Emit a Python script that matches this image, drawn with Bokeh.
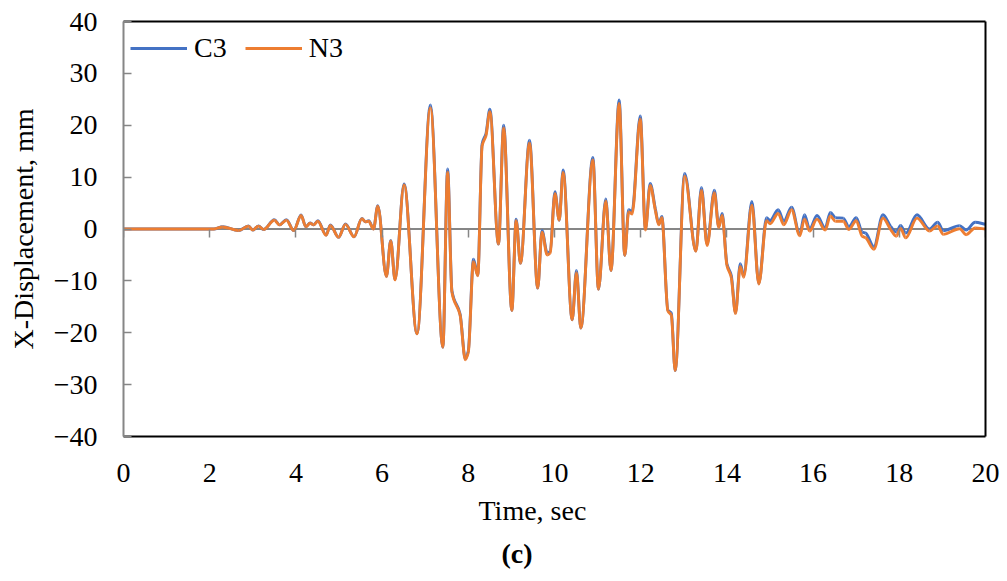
import numpy as np
from bokeh.plotting import figure
from bokeh.models import (Range1d, LinearAxis, FixedTicker, Span, Title,
                          CustomJSTickFormatter, ColumnDataSource)
from bokeh.embed import file_html
from bokeh.resources import INLINE

# ---------------- data ----------------
t = [0.00, 2.10, 2.30, 2.67, 2.90, 3.00, 3.13, 3.25, 3.50, 3.62, 3.78, 3.95,
     4.12, 4.23, 4.33, 4.41, 4.51, 4.70, 4.80, 4.99, 5.15, 5.35, 5.53, 5.61,
     5.69, 5.80, 5.90, 6.10, 6.20, 6.30, 6.51, 6.81, 7.12, 7.41, 7.52, 7.62,
     7.81, 7.93, 8.00, 8.12, 8.22, 8.32, 8.41, 8.50, 8.70, 8.82, 9.01, 9.11,
     9.21, 9.42, 9.61, 9.71, 9.83, 9.90, 10.01, 10.11, 10.20, 10.41, 10.51,
     10.61, 10.89, 11.02, 11.19, 11.31, 11.50, 11.63, 11.72, 11.80, 11.99,
     12.11, 12.22, 12.34, 12.42, 12.49, 12.63, 12.71, 12.80, 13.02, 13.28,
     13.41, 13.54, 13.71, 13.81, 13.89, 14.00, 14.10, 14.20, 14.31, 14.39,
     14.58, 14.74, 14.92, 15.00, 15.19, 15.32, 15.50, 15.69, 15.80, 15.92,
     16.09, 16.28, 16.40, 16.52, 16.70, 16.83, 17.00, 17.14, 17.22, 17.41,
     17.62, 17.80, 17.93, 18.03, 18.15, 18.41, 18.70, 18.89, 19.02, 19.40,
     19.55, 19.76, 20.00]

c3 = [0.0, 0.0, 0.45, -0.3, 0.6, -0.2, 0.6, -0.1, 1.8, 0.8, 1.8, -0.3,
      2.7, 0.45, 1.15, 0.8, 1.6, -1.15, 0.77, -1.6, 0.96, -1.5, 2.05, 1.4,
      1.6, 0.0, 4.5, -9.1, -2.2, -9.7, 8.7, -20.2, 23.9, -22.8, 11.6, -11.9,
      -16.4, -25.0, -23.5, -5.8, -8.9, 16.4, 18.4, 23.1, -2.9, 20.0, -15.7, 1.9,
      -6.6, 17.1, -11.4, -0.3, -4.6, -4.3, 7.2, 1.7, 11.4, -17.5, -8.0,
      -19.1, 13.8, -11.6, 5.8, -8.0, 24.9, -5.1, 3.7, 3.4, 21.8,
      0.0, 8.8, 3.9, 1.0, 2.4, -15.6, -16.2, -27.3, 10.7, -4.2,
      8.0, -2.9, 7.5, 0.45, 3.0, -6.7, -8.9, -16.1, -6.7, -8.9,
      5.3, -10.5, 2.2, 1.6, 3.7, 1.5, 4.2, -1.0, 2.75, 0.0,
      2.6, 0.2, 3.2, 2.2, 2.1, 0.45, 2.2, -0.6, -0.8, -3.4,
      2.75, 0.5, -0.6, 0.7, -0.8, 2.75, 0.0, 1.3, -0.3, 0.65,
      -0.2, 1.3, 0.9]

n3 = [0.0, 0.0, 0.4, -0.3, 0.55, -0.2, 0.55, -0.1, 1.7, 0.8, 1.7, -0.3,
      2.6, 0.45, 1.1, 0.8, 1.5, -1.2, 0.7, -1.6, 0.9, -1.5, 2.0, 1.4,
      1.5, 0.0, 4.4, -9.2, -2.3, -9.8, 8.5, -20.2, 23.4, -22.8, 11.0, -12.2,
      -16.6, -25.2, -23.8, -6.3, -9.0, 16.0, 18.0, 22.6, -2.9, 19.5, -15.7, 1.6,
      -6.6, 16.6, -11.4, -0.6, -5.0, -4.6, 6.8, 1.7, 10.9, -17.5, -8.4,
      -19.1, 13.3, -11.6, 5.4, -8.0, 24.2, -5.1, 3.3, 2.9, 21.2,
      -0.2, 8.4, 3.6, 0.8, 2.2, -15.8, -16.6, -27.3, 10.2, -4.3,
      7.5, -3.2, 7.0, 0.3, 2.6, -7.0, -9.3, -16.3, -7.2, -9.3,
      4.6, -10.6, 1.6, 1.0, 3.0, 0.8, 3.7, -1.3, 1.9, -0.4,
      1.9, -0.2, 2.5, 1.5, 1.5, -0.1, 1.6, -1.4, -1.7, -3.9,
      2.1, -0.1, -1.4, 0.1, -1.7, 2.1, -0.4, 0.6, -1.0, 0.05,
      -1.1, 0.2, 0.0]

x_ticks = [0, 2, 4, 6, 8, 10, 12, 14, 16, 18, 20]
y_ticks = [-40, -30, -20, -10, 0, 10, 20, 30, 40]
series_names = ["C3", "N3"]
series_colors = ["#4472C4", "#ED7D31"]

FONT = "Liberation Serif"
FS = "28px"
GRAY = "#868686"


def smooth_segments(x, y):
    """Cubic Bezier pieces (monotone Hermite tangents) joining the read points."""
    x = np.asarray(x, float)
    y = np.asarray(y, float)
    h = np.diff(x)
    d = np.diff(y) / h
    m = np.zeros(len(x))
    m[-1] = d[-1]
    for i in range(1, len(x) - 1):
        if d[i - 1] * d[i] > 0:
            w1 = 2 * h[i] + h[i - 1]
            w2 = h[i] + 2 * h[i - 1]
            m[i] = (w1 + w2) / (w1 / d[i - 1] + w2 / d[i])
    return dict(x0=x[:-1], y0=y[:-1], x1=x[1:], y1=y[1:],
                cx0=x[:-1] + h / 3, cy0=y[:-1] + m[:-1] * h / 3,
                cx1=x[1:] - h / 3, cy1=y[1:] - m[1:] * h / 3)


p = figure(width=1007, height=581, output_backend="svg", toolbar_location=None,
           x_range=Range1d(0, 20), y_range=Range1d(-40, 40),
           min_border_left=123, min_border_right=22,
           min_border_top=21, min_border_bottom=145)
p.outline_line_color = None
p.xgrid.visible = False
p.ygrid.visible = False
p.background_fill_color = "white"
p.border_fill_color = "white"

# zero line
p.add_layout(Span(location=0, dimension="width", line_color=GRAY,
                  line_width=2, level="underlay"))

for vals, name, col in zip([c3, n3], series_names, series_colors):
    src = ColumnDataSource(smooth_segments(t, vals))
    p.bezier(x0="x0", y0="y0", x1="x1", y1="y1", cx0="cx0", cy0="cy0",
             cx1="cx1", cy1="cy1", source=src, line_color=col,
             line_width=2.9, legend_label=name)

# bottom axis: labels only, black border line
xa = p.xaxis[0]
xa.ticker = FixedTicker(ticks=x_ticks)
xa.axis_line_color = "black"
xa.axis_line_width = 2
xa.major_tick_line_color = None
xa.minor_tick_line_color = None
xa.major_label_text_font = FONT
xa.major_label_text_font_size = FS
xa.major_label_text_color = "black"
xa.major_label_standoff = 21

# left axis
ya = p.yaxis[0]
ya.ticker = FixedTicker(ticks=y_ticks)
ya.formatter = CustomJSTickFormatter(
    code="return tick < 0 ? '\u2212' + Math.abs(tick) : tick.toString();")
ya.axis_line_color = GRAY
ya.axis_line_width = 2
ya.major_tick_in = 8
ya.major_tick_out = 0
ya.major_tick_line_color = GRAY
ya.major_tick_line_width = 1.5
ya.minor_tick_line_color = None
ya.major_label_text_font = FONT
ya.major_label_text_font_size = FS
ya.major_label_text_color = "black"
ya.major_label_standoff = 26
ya.axis_label = "X-Displacement, mm"
ya.axis_label_text_font = FONT
ya.axis_label_text_font_size = FS
ya.axis_label_text_font_style = "normal"
ya.axis_label_text_color = "black"
ya.axis_label_standoff = 12

# tick marks on the zero line
zx = LinearAxis(fixed_location=0, ticker=FixedTicker(ticks=x_ticks),
                formatter=CustomJSTickFormatter(code="return '';"),
                axis_line_color=None, major_tick_out=8, major_tick_in=0,
                major_tick_line_color=GRAY, major_tick_line_width=1.5,
                minor_tick_line_color=None)
p.add_layout(zx, "below")

# top and right frame lines
for side in ("above", "right"):
    ax = LinearAxis(ticker=FixedTicker(ticks=[]), axis_line_color="black",
                    axis_line_width=2, major_tick_line_color=None,
                    minor_tick_line_color=None, major_label_standoff=0,
                    major_tick_out=0, major_tick_in=0)
    p.add_layout(ax, side)

# x title and caption
p.add_layout(Title(text="Time, sec", align="left", offset=355, standoff=16,
                   text_font=FONT, text_font_size=FS, text_font_style="normal",
                   text_color="black"), "below")
p.add_layout(Title(text="(c)", align="left", offset=378, standoff=4,
                   text_font=FONT, text_font_size=FS, text_font_style="bold",
                   text_color="black"), "below")

lg = p.legend[0]
lg.location = (7, 372)
lg.orientation = "horizontal"
lg.border_line_color = None
lg.background_fill_alpha = 0
lg.label_text_font = FONT
lg.label_text_font_size = FS
lg.label_text_color = "black"
lg.glyph_width = 57
lg.glyph_height = 20
lg.label_standoff = 7
lg.spacing = 18
lg.padding = 0
lg.margin = 0

open("out.html", "w").write(file_html(p, INLINE))
